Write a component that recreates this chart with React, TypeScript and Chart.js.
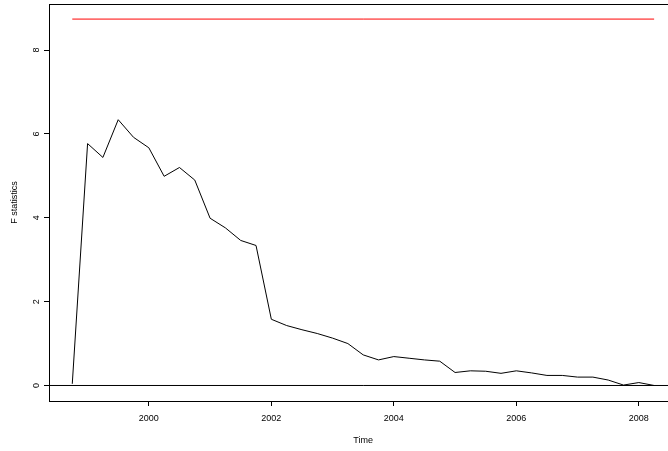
import React, { useEffect, useRef } from "react";
import { Chart, registerables } from "chart.js";

Chart.register(...registerables);

// Quarterly time points (ts, frequency 4)
const times = [
  1998.75, 1999.0, 1999.25, 1999.5, 1999.75, 2000.0, 2000.25, 2000.5, 2000.75,
  2001.0, 2001.25, 2001.5, 2001.75, 2002.0, 2002.25, 2002.5, 2002.75, 2003.0,
  2003.25, 2003.5, 2003.75, 2004.0, 2004.25, 2004.5, 2004.75, 2005.0, 2005.25,
  2005.5, 2005.75, 2006.0, 2006.25, 2006.5, 2006.75, 2007.0, 2007.25, 2007.5,
  2007.75, 2008.0, 2008.25,
];

// F statistics
const fStatistics = [
  0.04, 5.77, 5.44, 6.34, 5.92, 5.67, 4.99, 5.2, 4.9,
  3.99, 3.76, 3.46, 3.34, 1.58, 1.43, 1.33, 1.24, 1.13,
  1.0, 0.73, 0.61, 0.69, 0.65, 0.61, 0.58, 0.31, 0.35,
  0.34, 0.29, 0.35, 0.3, 0.24, 0.24, 0.2, 0.2, 0.13,
  0.01, 0.07, 0.0,
];

const boundaryValue = 8.74;
const zeroLevel = 0;

const xTickValues = [2000, 2002, 2004, 2006, 2008];
const yTickValues = [0, 2, 4, 6, 8];
const xLimits = [1998.37, 2008.63];
const yLimits = [-0.37, 9.1];

const xTitle = "Time";
const yTitle = "F statistics";

const FONT = "'Liberation Sans', Arial, Helvetica, sans-serif";

const boxPlugin = {
  id: "rbox",
  afterDraw(chart: any) {
    const { ctx, chartArea: a } = chart;
    ctx.save();
    ctx.strokeStyle = "#000";
    ctx.lineWidth = 1;
    ctx.strokeRect(
      Math.round(a.left) + 0.5,
      Math.round(a.top) + 0.5,
      Math.round(a.right - a.left),
      Math.round(a.bottom - a.top)
    );
    ctx.restore();
  },
};

export default function App() {
  const ref = useRef<HTMLCanvasElement | null>(null);

  useEffect(() => {
    if (!ref.current) return;
    const series = times.map((t, i) => ({ x: t, y: fStatistics[i] }));
    const boundary = [
      { x: times[0], y: boundaryValue },
      { x: times[times.length - 1], y: boundaryValue },
    ];
    const zeroLine = [
      { x: xLimits[0], y: zeroLevel },
      { x: xLimits[1], y: zeroLevel },
    ];

    const chart = new Chart(ref.current, {
      type: "line",
      data: {
        datasets: [
          {
            data: series,
            borderColor: "#000000",
            borderWidth: 1,
            pointRadius: 0,
            tension: 0,
          },
          {
            data: boundary,
            borderColor: "#ff0000",
            borderWidth: 1,
            pointRadius: 0,
          },
          {
            data: zeroLine,
            borderColor: "#000000",
            borderWidth: 1,
            pointRadius: 0,
          },
        ],
      },
      options: {
        responsive: false,
        animation: false,
        devicePixelRatio: 1,
        layout: { padding: { left: 0, top: 4, right: 22.6, bottom: 0 } },
        plugins: {
          legend: { display: false },
          tooltip: { enabled: false },
        },
        scales: {
          x: {
            type: "linear",
            min: xLimits[0],
            max: xLimits[1],
            afterBuildTicks: (scale: any) => {
              scale.ticks = xTickValues.map((v) => ({ value: v }));
            },
            afterFit: (scale: any) => {
              scale.height = 50;
              scale.paddingLeft = 0;
              scale.paddingRight = 0;
            },
            grid: {
              display: true,
              drawOnChartArea: false,
              drawTicks: true,
              tickLength: 5,
              color: "#000",
              lineWidth: 1,
            },
            border: { display: false },
            ticks: {
              autoSkip: false,
              maxRotation: 0,
              minRotation: 0,
              padding: 7,
              color: "#000",
              font: { family: FONT, size: 9 },
              callback: (v: any) => String(v),
            },
            title: {
              display: true,
              text: xTitle,
              color: "#000",
              font: { family: FONT, size: 9 },
              padding: { top: 0, bottom: 5.5 },
            },
          },
          y: {
            type: "linear",
            min: yLimits[0],
            max: yLimits[1],
            afterBuildTicks: (scale: any) => {
              scale.ticks = yTickValues.map((v) => ({ value: v }));
            },
            afterFit: (scale: any) => {
              scale.width = 49;
              scale.paddingTop = 0;
              scale.paddingBottom = 0;
            },
            grid: {
              display: true,
              drawOnChartArea: false,
              drawTicks: true,
              tickLength: 5,
              color: "#000",
              lineWidth: 1,
            },
            border: { display: false },
            ticks: {
              autoSkip: false,
              minRotation: 90,
              maxRotation: 90,
              crossAlign: "center",
              padding: 5,
              color: "#000",
              font: { family: FONT, size: 9 },
              callback: (v: any) => String(v),
            },
            title: {
              display: true,
              text: yTitle,
              color: "#000",
              font: { family: FONT, size: 9 },
              padding: { top: 9.5, bottom: 0 },
            },
          },
        },
      },
      plugins: [boxPlugin],
    } as any);

    return () => chart.destroy();
  }, []);

  return (
    <div
      style={{
        position: "fixed",
        left: 0,
        top: 0,
        width: 668,
        height: 451,
        overflow: "hidden",
        background: "#fff",
      }}
    >
      <canvas
        ref={ref}
        width={700}
        height={451}
        style={{ display: "block", width: 700, height: 451 }}
      />
    </div>
  );
}
